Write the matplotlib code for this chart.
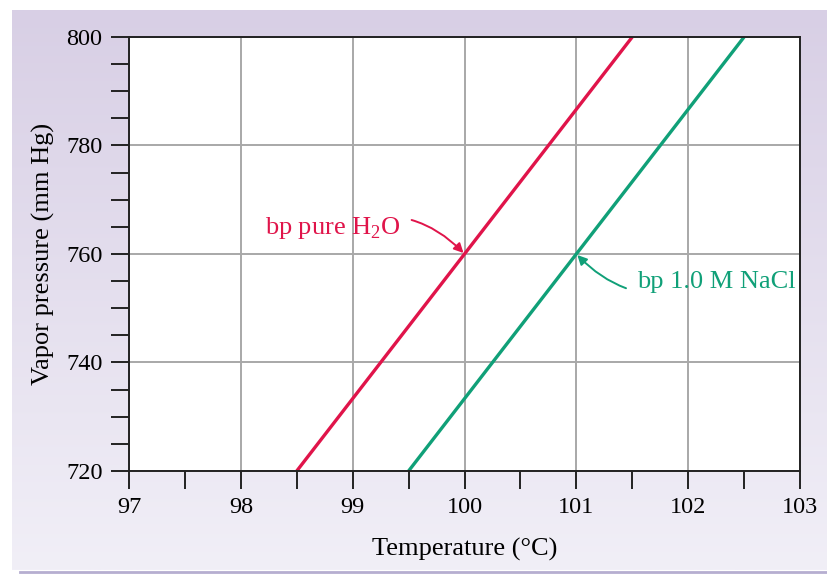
import numpy as np
import matplotlib
matplotlib.use("Agg")
import matplotlib.pyplot as plt
from matplotlib.ticker import MultipleLocator

# data
temp_water = [98.5, 101.5]
pres_water = [720, 800]
temp_nacl = [99.5, 102.5]
pres_nacl = [720, 800]
x_ticks = [97, 98, 99, 100, 101, 102, 103]
y_ticks = [720, 740, 760, 780, 800]

RED = '#e0144a'
GREEN = '#10a078'

plt.rcParams['font.family'] = ['Liberation Serif', 'DejaVu Serif']
plt.rcParams['mathtext.fontset'] = 'custom'
plt.rcParams['mathtext.rm'] = 'Liberation Serif'

W, H = 828, 574
fig = plt.figure(figsize=(W / 100, H / 100), dpi=100)

# lavender gradient panel behind the chart
bg = fig.add_axes([0, 0, 1, 1], zorder=-10)
bg.set_xlim(0, W)
bg.set_ylim(H, 0)
bg.axis('off')
grad = np.linspace(0, 1, 256).reshape(-1, 1)
cmap = matplotlib.colors.LinearSegmentedColormap.from_list('lav', ['#d8cfe5', '#f1eff7'])
bg.imshow(grad, cmap=cmap, extent=[12, W, 570, 10], aspect='auto')
bg.plot([20, W], [571.5, 571.5], color='#b6aed0', lw=2)

ax = fig.add_axes([129 / W, 1 - 471 / H, (800 - 129) / W, (471 - 37) / H])
ax.set_facecolor('white')

ax.plot(temp_water, pres_water, color=RED, lw=2.4, solid_capstyle='butt')
ax.plot(temp_nacl, pres_nacl, color=GREEN, lw=2.4, solid_capstyle='butt')

ax.set_xlim(97, 103)
ax.set_ylim(720, 800)
ax.set_xticks(x_ticks)
ax.set_yticks(y_ticks)
ax.xaxis.set_minor_locator(MultipleLocator(0.5))
ax.yaxis.set_minor_locator(MultipleLocator(5))
ax.tick_params(which='both', direction='out', length=13, width=1.4, color='#222222',
               labelsize=17.5, pad=6)
ax.grid(True, which='major', color='#a8a8a8', lw=1.4)
ax.set_axisbelow(True)
for s in ax.spines.values():
    s.set_color('#222222')
    s.set_linewidth(1.4)

ax.set_xlabel('Temperature (°C)', fontsize=19, labelpad=14)
ax.set_ylabel('Vapor pressure (mm Hg)', fontsize=19, labelpad=8)

ax.annotate('bp pure H$_2$O', xy=(100.0, 760), xytext=(99.43, 764.8),
            color=RED, fontsize=19, ha='right', va='center',
            arrowprops=dict(arrowstyle='-|>', color=RED, lw=1.4,
                            connectionstyle='arc3,rad=-0.35',
                            shrinkA=6, shrinkB=1, mutation_scale=14))
ax.annotate('bp 1.0 M NaCl', xy=(101.0, 760), xytext=(101.54, 754.8),
            color=GREEN, fontsize=19, ha='left', va='center',
            arrowprops=dict(arrowstyle='-|>', color=GREEN, lw=1.4,
                            connectionstyle='arc3,rad=-0.35',
                            shrinkA=6, shrinkB=1, mutation_scale=14))

fig.savefig('out.png', dpi=100)
